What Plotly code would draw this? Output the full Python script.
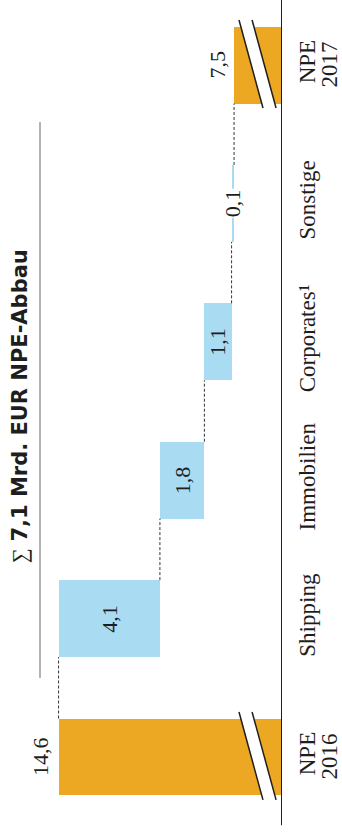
import plotly.graph_objects as go

# ---------------- data ----------------
categories = ["NPE 2016", "Shipping", "Immobilien", "Corporates¹", "Sonstige", "NPE 2017"]
tick_line1 = ["NPE", "Shipping", "Immobilien", "Corporates¹", "Sonstige", "NPE"]
tick_line2 = ["2016", "", "", "", "", "2017"]
npe_2016 = 14.6
reductions = [4.1, 1.8, 1.1, 0.1]
npe_2017 = 7.5
title_total = "7,1"

# ---------------- style ----------------
ORANGE = "#ECA822"
BLUE = "#A9DBF2"
DARK = "#1e1e1e"
SERIF = "Liberation Serif"
SANS = "DejaVu Sans"
AXIS_FLOOR = 5.56      # value where the (broken) value axis starts
AXIS_CEIL = 16.97
BAR_W = 0.556

def fmt(v):
    return f"{v:.1f}".replace(".", ",")

# waterfall levels
levels = [npe_2016]
for r in reductions:
    levels.append(round(levels[-1] - r, 2))

ypos = list(range(len(categories)))
lengths = [npe_2016] + reductions + [npe_2017]
bases = [0] + levels[1:] + [0]
colors = [ORANGE] + [BLUE] * len(reductions) + [ORANGE]

fig = go.Figure()
fig.add_trace(go.Bar(
    y=ypos, x=lengths, base=bases, orientation="h",
    marker=dict(color=colors, line=dict(width=0)),
    width=BAR_W, hoverinfo="skip", showlegend=False,
))

# dashed connectors between bars
cx, cy = [], []
for i, lv in enumerate(levels):
    cx += [lv, lv, None]
    cy += [i + BAR_W / 2, i + 1 - BAR_W / 2, None]
fig.add_trace(go.Scatter(
    x=cx, y=cy, mode="lines",
    line=dict(color="#333333", width=1, dash="3px,2px"),
    hoverinfo="skip", showlegend=False,
))

annotations = []
# total labels (outside, left of bar)
for i, v in [(0, npe_2016), (len(categories) - 1, npe_2017)]:
    annotations.append(dict(
        x=v, y=i, xref="x", yref="y", text=fmt(v), showarrow=False,
        textangle=-90, xanchor="right", yanchor="middle", xshift=-3,
        font=dict(family=SERIF, size=22, color=DARK),
    ))
# reduction labels (inside bars)
for k, r in enumerate(reductions):
    i = k + 1
    annotations.append(dict(
        x=levels[i] + r / 2, y=i, xref="x", yref="y", text=fmt(r),
        showarrow=False, textangle=-90, xanchor="center", yanchor="middle",
        font=dict(family=SERIF, size=22, color=DARK),
        bgcolor="white" if r < 0.5 else "rgba(0,0,0,0)", borderpad=0,
    ))
# second line of category labels
for i, t in enumerate(tick_line2):
    if t:
        annotations.append(dict(
            x=1, y=i, xref="paper", yref="y", text=t, showarrow=False,
            textangle=-90, xanchor="left", yanchor="middle", xshift=33,
            font=dict(family=SERIF, size=23, color=DARK),
        ))
# title
annotations.append(dict(
    x=6 / 282, y=0.514, xref="paper", yref="paper",
    text=f"<span style='font-family:{SERIF};font-weight:normal'>∑</span> <b>{title_total} Mrd. EUR NPE-Abbau</b>",
    showarrow=False, textangle=-90, xanchor="left", yanchor="middle",
    font=dict(family=SANS, size=21, color=DARK),
))

shapes = []
# title rule
shapes.append(dict(type="line", xref="paper", yref="paper",
                   x0=40 / 282, x1=40 / 282, y0=0.189, y1=0.854,
                   line=dict(color="#9a9a9a", width=1.5)))
# axis break marks on the total bars
for i in [0, len(categories) - 1]:
    top, bot = i + 0.325, i - 0.31
    xa_t, xa_b, xb_t, xb_b = 7.30, 6.33, 6.77, 5.80
    shapes.append(dict(type="path", xref="x", yref="y",
                       path=f"M {xa_t},{top} L {xb_t},{top} L {xb_b},{bot} L {xa_b},{bot} Z",
                       fillcolor="white", line=dict(width=0)))
    shapes.append(dict(type="line", xref="x", yref="y", x0=xa_t, y0=top, x1=xa_b, y1=bot,
                       line=dict(color=DARK, width=1.5)))
    shapes.append(dict(type="line", xref="x", yref="y", x0=xb_t, y0=top, x1=xb_b, y1=bot,
                       line=dict(color=DARK, width=1.5)))
# baseline
shapes.append(dict(type="line", xref="x", yref="paper", x0=AXIS_FLOOR, x1=AXIS_FLOOR,
                   y0=0.013, y1=1, line=dict(color=DARK, width=2)))

fig.update_layout(
    width=342, height=836,
    margin=dict(l=0, r=60, t=0, b=0, pad=0),
    paper_bgcolor="white", plot_bgcolor="white",
    xaxis=dict(range=[AXIS_CEIL, AXIS_FLOOR], visible=False, fixedrange=True),
    yaxis=dict(range=[-0.571, 5.470], side="right", tickmode="array",
               tickvals=ypos, ticktext=tick_line1, tickangle=-90,
               showgrid=False, zeroline=False, showline=False, ticks="",
               ticklabelstandoff=9, automargin=False,
               tickfont=dict(family=SERIF, size=23, color=DARK)),
    annotations=annotations, shapes=shapes,
    bargap=0,
)

fig.write_html("out.html", config={"displayModeBar": False})
